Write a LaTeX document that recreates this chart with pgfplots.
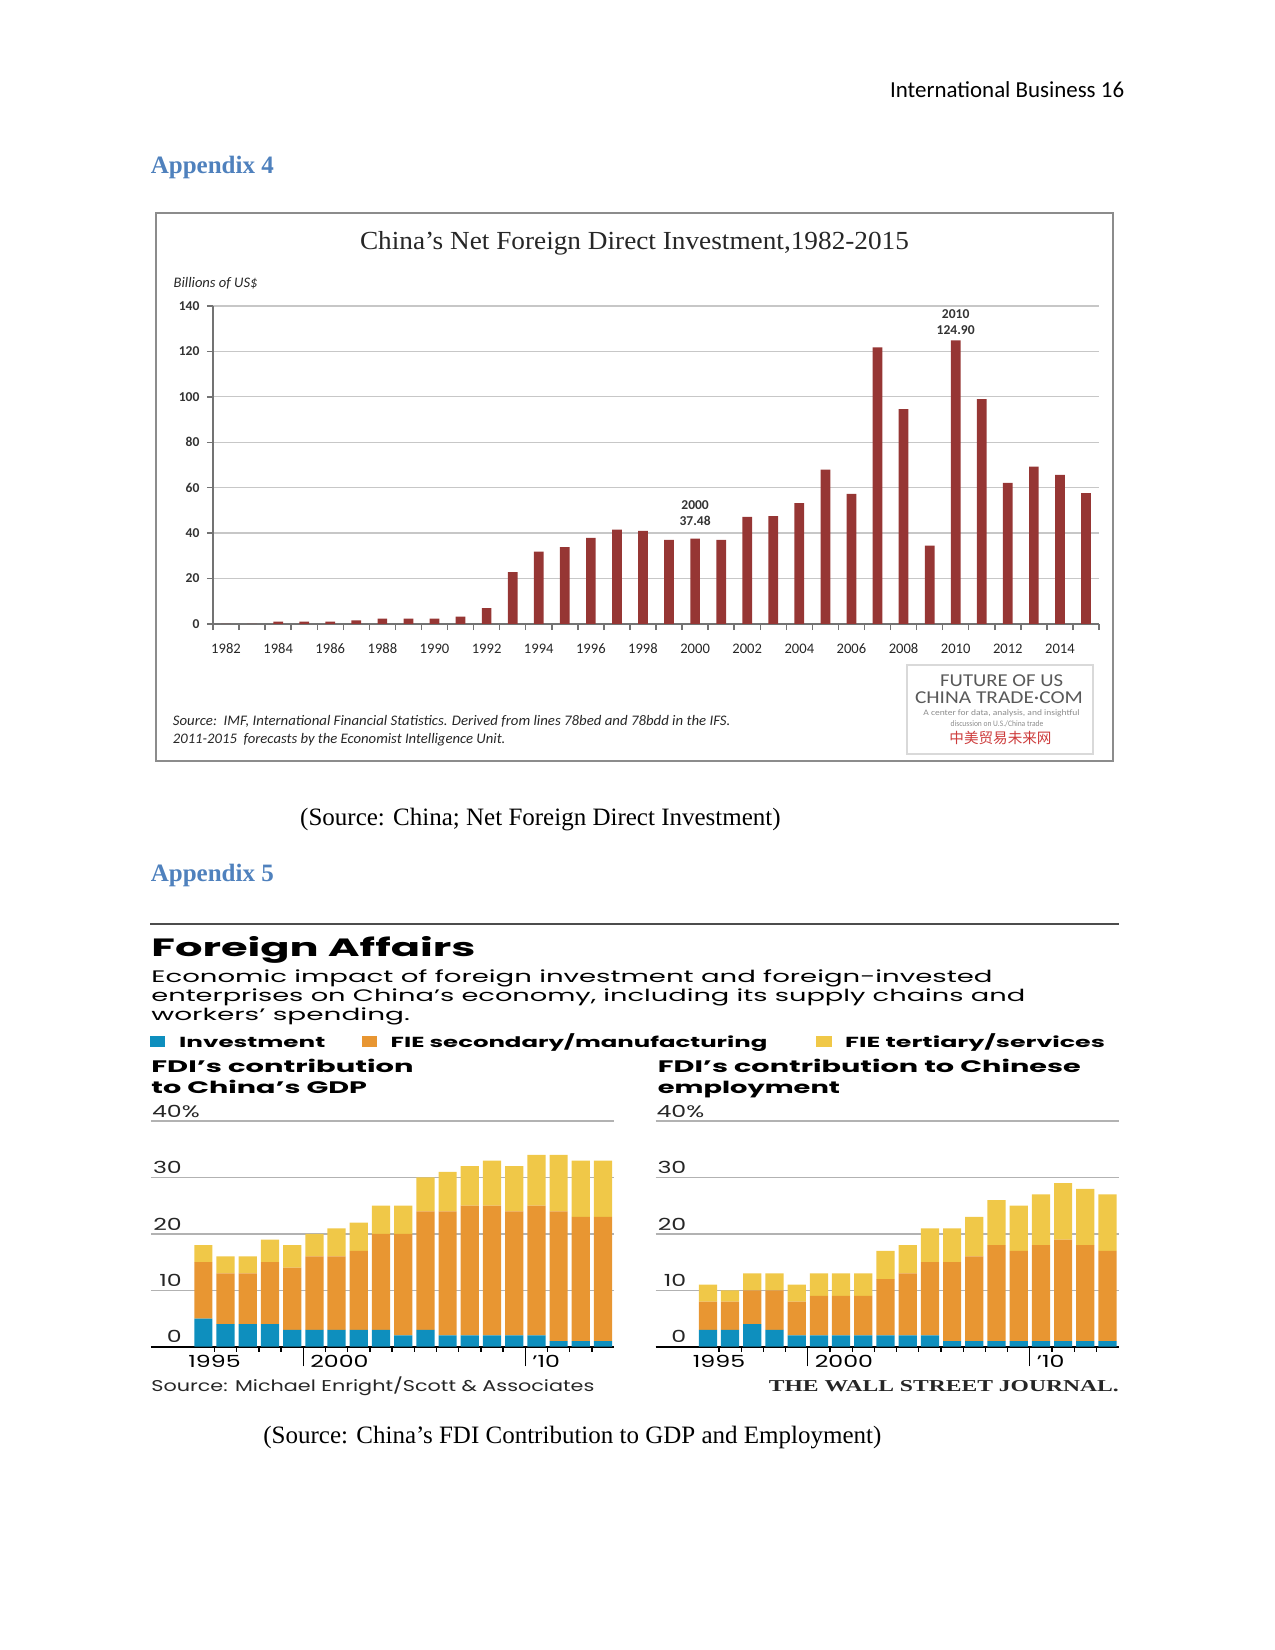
\documentclass[border=0pt]{standalone}
\usepackage{pgfplots}
\pgfplotsset{compat=1.18}
\usepackage{pgfplotstable}
\usepackage{graphicx}
\usepackage{fontspec}
\setmainfont{Liberation Serif}
\newfontfamily\carlito{Carlito}
\newfontfamily\wsj{Poppins}
\newfontfamily\wsjs[FakeStretch=1.42]{Poppins}
\newfontfamily\cjk{Noto Sans CJK SC}
\definecolor{fdired}{RGB}{150,54,52}
\definecolor{appblue}{RGB}{79,129,189}
\definecolor{invblue}{RGB}{14,143,190}
\definecolor{mfgorange}{RGB}{232,150,50}
\definecolor{svcyellow}{RGB}{240,200,72}
\definecolor{logored}{RGB}{205,60,60}
\newcommand{\fw}[2]{\resizebox{#1}{\height}{#2}}

\pgfplotstableread{
year val
1982 0
1983 0
1984 1.0
1985 1.0
1986 1.0
1987 1.5
1988 2.3
1989 2.3
1990 2.3
1991 3.2
1992 6.9
1993 22.8
1994 31.8
1995 33.8
1996 37.9
1997 41.5
1998 41.0
1999 37.0
2000 37.48
2001 37.0
2002 47.1
2003 47.4
2004 53.2
2005 67.9
2006 57.2
2007 121.8
2008 94.6
2009 34.4
2010 124.9
2011 99.0
2012 62.1
2013 69.3
2014 65.6
2015 57.6
}\fditable

\pgfplotstableread{
year inv mfg svc
1995 5 10 3
1996 4 9 3
1997 4 9 3
1998 4 11 4
1999 3 11 4
2000 3 13 4
2001 3 13 5
2002 3 14 5
2003 3 17 5
2004 2 18 5
2005 3 21 6
2006 2 22 7
2007 2 23 7
2008 2 23 8
2009 2 22 8
2010 2 23 9
2011 1 23 10
2012 1 22 10
2013 1 22 10
}\gdptable

\pgfplotstableread{
year inv mfg svc
1995 3 5 3
1996 3 5 2
1997 4 6 3
1998 3 7 3
1999 2 6 3
2000 2 7 4
2001 2 7 4
2002 2 7 4
2003 2 10 5
2004 2 11 5
2005 2 13 6
2006 1 14 6
2007 1 15 7
2008 1 17 8
2009 1 16 8
2010 1 17 9
2011 1 18 10
2012 1 17 10
2013 1 16 10
}\emptable

\pgfplotsset{
  wsjaxis/.style={
    scale only axis, width=222.4pt, height=108.3pt,
    xmin=1992.64, xmax=2013.51, ymin=0, ymax=40,
    ybar stacked, bar width=8.74pt,
    axis lines*=left,
    x axis line style={black, line width=1pt},
    y axis line style={draw=none},
    ytick={0,10,20,30,40}, yticklabels={0,10,20,30,40\rlap{\%}},
    ytick style={draw=none},
    ymajorgrids, grid style={black!30, line width=0.6pt},
    yticklabel style={font=\wsjs\fontsize{8}{8}\selectfont, anchor=south east, inner sep=0pt, yshift=1.6pt, xshift=17.4pt, text=black!85},
    xtick={1995.5,1996.5,1997.5,1998.5,2000.5,2001.5,2002.5,2003.5,2004.5,2005.5,2006.5,2007.5,2008.5,2010.5,2011.5,2012.5},
    xticklabels={},
    tick align=outside, major tick length=2.4pt,
    x tick style={black, line width=0.6pt},
    extra x ticks={1999.5,2009.5}, extra x tick labels={},
    extra x tick style={major tick length=9.5pt, tick style={black, line width=1pt}},
    clip=false,
  }
}

\begin{document}
\begin{tikzpicture}
\path[use as bounding box] (0,0) rectangle (612pt,-792pt);
\begin{scope}[x=0.48pt,y=-0.48pt]
% page header
\node[anchor=east,inner sep=0pt,font=\carlito\fontsize{11}{13}\selectfont] at (1124.6,89.4) {International Business 16};
\node[anchor=west,inner sep=0pt,font=\bfseries\fontsize{12}{14}\selectfont,text=appblue] at (150.4,167) {Appendix 4};
% chart 1 frame and texts
\draw[black!45, line width=0.6pt] (156,213) rectangle (1113,761);
\node[inner sep=0pt,font=\fontsize{12.5}{14}\selectfont, text=black!85] at (634.5,243) {\fw{263.5pt}{China’s Net Foreign Direct Investment,1982-2015}};
\node[anchor=west,inner sep=0pt,font=\carlito\itshape\fontsize{7}{8}\selectfont, text=black!85] at (173.3,283.5) {Billions of US\$};
\node[anchor=west,inner sep=0pt,font=\carlito\itshape\fontsize{7}{8}\selectfont, text=black!85] at (172.5,721.5) {\fw{267.6pt}{Source:\ \ IMF, International Financial Statistics. Derived from lines 78bed and 78bdd in the IFS.}};
\node[anchor=west,inner sep=0pt,font=\carlito\itshape\fontsize{7}{8}\selectfont, text=black!85] at (172.5,739.5) {\fw{159.6pt}{2011-2015\ \ forecasts by the Economist Intelligence Unit.}};
% logo
\draw[black!15, line width=0.6pt] (907,665) rectangle (1093,754);
\node[inner sep=0pt,font=\carlito\fontsize{8.7}{9}\selectfont, text=black!65] at (1001.7,681) {\fw{59pt}{FUTURE OF US}};
\node[inner sep=0pt,font=\carlito\fontsize{8.7}{9}\selectfont, text=black!65] at (999,697.7) {\fw{80.6pt}{CHINA TRADE·COM}};
\node[inner sep=0pt,font=\carlito\fontsize{4}{5}\selectfont, text=black!45] at (1001.5,713) {\fw{75pt}{A center for data, analysis, and insightful}};
\node[inner sep=0pt,font=\carlito\fontsize{4}{5}\selectfont, text=black!45] at (997,723.8) {\fw{44.5pt}{discussion on U.S./China trade}};
\node[inner sep=0pt,font=\cjk\fontsize{7}{8}\selectfont, text=logored] at (1000.5,738.4) {中美贸易未来网};
% caption 1
\node[anchor=west,inner sep=0pt,font=\fontsize{12}{14}\selectfont] at (299.8,819.5) {(Source: China; Net Foreign Direct Investment)};
\node[anchor=west,inner sep=0pt,font=\bfseries\fontsize{12}{14}\selectfont,text=appblue] at (150.4,875.5) {Appendix 5};
% chart 2 texts
\draw[black!70, line width=1pt] (150.4,923.6) -- (1119.3,923.6);
\node[anchor=west,inner sep=0pt,font=\wsj\bfseries\fontsize{12}{14}\selectfont] at (151,949.5) {\fw{155.5pt}{Foreign Affairs}};
\node[anchor=west,inner sep=0pt,font=\wsj\fontsize{8}{9}\selectfont] at (151,978) {\fw{403.7pt}{Economic impact of foreign investment and foreign-invested}};
\node[anchor=west,inner sep=0pt,font=\wsj\fontsize{8}{9}\selectfont] at (151,997) {\fw{419.4pt}{enterprises on China’s economy, including its supply chains and}};
\node[anchor=west,inner sep=0pt,font=\wsj\fontsize{8}{9}\selectfont] at (151,1016.5) {\fw{124.1pt}{workers’ spending.}};
\fill[invblue] (150.4,1035.5) rectangle (165,1046.7);
\fill[mfgorange] (361.7,1035.5) rectangle (377,1046.7);
\fill[svcyellow] (816,1035.5) rectangle (832,1046.7);
\node[anchor=west,inner sep=0pt,font=\wsj\bfseries\fontsize{7}{8}\selectfont] at (178.8,1042.5) {\fw{70.1pt}{Investment}};
\node[anchor=west,inner sep=0pt,font=\wsj\bfseries\fontsize{7}{8}\selectfont] at (390.3,1042.5) {\fw{180.8pt}{FIE secondary/manufacturing}};
\node[anchor=west,inner sep=0pt,font=\wsj\bfseries\fontsize{7}{8}\selectfont] at (844.8,1042.5) {\fw{124.7pt}{FIE tertiary/services}};
\node[anchor=west,inner sep=0pt,font=\wsj\bfseries\fontsize{8}{9}\selectfont] at (151,1065.8) {\fw{125.8pt}{FDI’s contribution}};
\node[anchor=west,inner sep=0pt,font=\wsj\bfseries\fontsize{8}{9}\selectfont] at (151,1086.8) {\fw{103.5pt}{to China’s GDP}};
\node[anchor=west,inner sep=0pt,font=\wsj\bfseries\fontsize{8}{9}\selectfont] at (657.5,1065.8) {\fw{203pt}{FDI’s contribution to Chinese}};
\node[anchor=west,inner sep=0pt,font=\wsj\bfseries\fontsize{8}{9}\selectfont] at (657.5,1089.5) {\fw{87.4pt}{employment}};
\node[anchor=west,inner sep=0pt,font=\wsj\fontsize{7.5}{9}\selectfont, text=black!85] at (151,1386.5) {\fw{212.6pt}{Source: Michael Enright/Scott \& Associates}};
\node[anchor=east,inner sep=0pt,font=\bfseries\fontsize{8}{9}\selectfont, text=black!85] at (1119.3,1386) {\fw{168pt}{THE WALL STREET JOURNAL.}};
\node[anchor=west,inner sep=0pt,font=\fontsize{12}{14}\selectfont] at (263,1438) {(Source: China’s FDI Contribution to GDP and Employment)};
\end{scope}

% ---------- chart 1 ----------
\begin{axis}[
  at={({213*0.48pt},{-623.8*0.48pt})}, anchor=south west,
  scale only axis, width=425.3pt, height=152.5pt,
  xmin=1981.5, xmax=2015.5, ymin=0, ymax=140,
  axis lines*=left,
  axis line style={black!55, line width=0.7pt},
  ybar, bar width=4.66pt, bar shift=0pt,
  ytick={0,20,...,140},
  /pgf/number format/assume math mode=true,
  ymajorgrids, grid style={black!22, line width=0.6pt},
  xtick={1981.5,1982.5,...,2015.5}, xticklabels={},
  extra x ticks={1982,1984,1986,1988,1990,1992,1994,1996,1998,2000,2002,2004,2006,2008,2010,2012,2014},
  extra x tick labels={1982,1984,1986,1988,1990,1992,1994,1996,1998,2000,2002,2004,2006,2008,2010,2012,2014},
  extra x tick style={major tick length=0pt},
  tick align=outside, major tick length=3pt,
  tick style={black!55, line width=0.7pt},
  yticklabel style={font=\carlito\bfseries\fontsize{6.5}{7}\selectfont, text=black!80},
  xticklabel style={font=\carlito\fontsize{7}{8}\selectfont, text=black!85, yshift=-6pt},
  clip=false,
]
\addplot[fill=fdired, draw=none] table[x=year,y=val]{\fditable};
\node[font=\carlito\bfseries\fontsize{6.5}{7}\selectfont, text=black!80] at (axis cs:2000,52.3) {2000};
\node[font=\carlito\bfseries\fontsize{6.5}{7}\selectfont, text=black!80] at (axis cs:2000,45.4) {37.48};
\node[font=\carlito\bfseries\fontsize{6.5}{7}\selectfont, text=black!80] at (axis cs:2010,136.3) {2010};
\node[font=\carlito\bfseries\fontsize{6.5}{7}\selectfont, text=black!80] at (axis cs:2010,129.3) {124.90};
\end{axis}

% ---------- chart 2 left ----------
\begin{axis}[wsjaxis, at={({151*0.48pt},{-1346.7*0.48pt})}, anchor=south west]
\addplot[fill=invblue, draw=none] table[x=year,y=inv]{\gdptable};
\addplot[fill=mfgorange, draw=none] table[x=year,y=mfg]{\gdptable};
\addplot[fill=svcyellow, draw=none] table[x=year,y=svc]{\gdptable};
\node[inner sep=0pt, font=\wsjs\fontsize{8}{8}\selectfont, yshift=-7pt] at (axis cs:1995.5,0) {1995};
\node[anchor=west, inner sep=0pt, font=\wsjs\fontsize{8}{8}\selectfont, yshift=-7pt, xshift=3.2pt] at (axis cs:1999.5,0) {2000};
\node[anchor=west, inner sep=0pt, font=\wsjs\fontsize{8}{8}\selectfont, yshift=-7pt, xshift=3.2pt] at (axis cs:2009.5,0) {’10};
\end{axis}

% ---------- chart 2 right ----------
\begin{axis}[wsjaxis, at={({655.5*0.48pt},{-1346.7*0.48pt})}, anchor=south west]
\addplot[fill=invblue, draw=none] table[x=year,y=inv]{\emptable};
\addplot[fill=mfgorange, draw=none] table[x=year,y=mfg]{\emptable};
\addplot[fill=svcyellow, draw=none] table[x=year,y=svc]{\emptable};
\node[inner sep=0pt, font=\wsjs\fontsize{8}{8}\selectfont, yshift=-7pt] at (axis cs:1995.5,0) {1995};
\node[anchor=west, inner sep=0pt, font=\wsjs\fontsize{8}{8}\selectfont, yshift=-7pt, xshift=3.2pt] at (axis cs:1999.5,0) {2000};
\node[anchor=west, inner sep=0pt, font=\wsjs\fontsize{8}{8}\selectfont, yshift=-7pt, xshift=3.2pt] at (axis cs:2009.5,0) {’10};
\end{axis}
\end{tikzpicture}
\end{document}
